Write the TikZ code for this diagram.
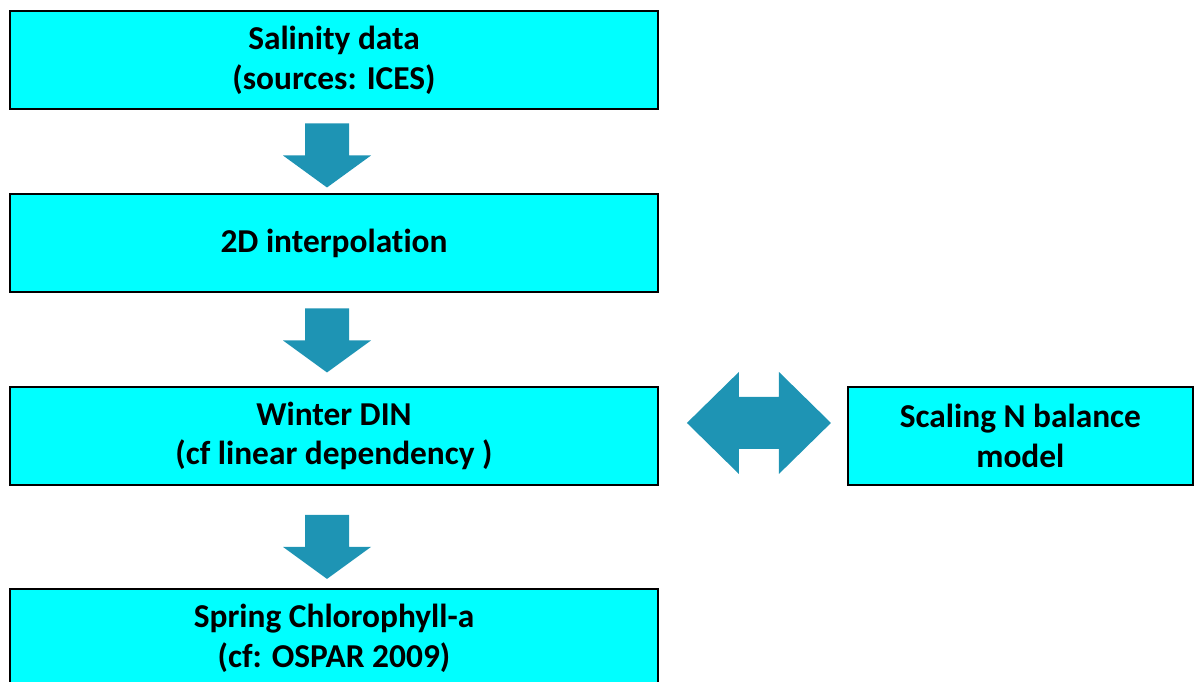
\documentclass[tikz,border=0pt]{standalone}
\usepackage{fontspec}
\setmainfont{Carlito}[Ligatures=CommonOff]
\usetikzlibrary{positioning,calc}
\definecolor{boxcyan}{RGB}{0,255,255}
\definecolor{arrowteal}{RGB}{30,148,180}
\tikzset{
  stage/.style={draw=black, line width=1.1pt, fill=boxcyan, align=center,
    minimum width=12.96cm, minimum height=1.96cm, inner sep=0pt, outer sep=0pt,
    font=\fontsize{19}{22.7}\selectfont\bfseries},
  blockarrow/.style={fill=arrowteal}
}
\begin{document}
\begin{tikzpicture}[x=0.02cm, y=-0.02cm]
  \useasboundingbox (0,0) rectangle (1195,681);
  \node[stage] (salinity) at (334,60) {Salinity data\\(sources: ICES)};
  \node[stage, below=1.7cm of salinity] (interp) {2D interpolation};
  \node[stage, below=1.9cm of interp] (winter) {Winter DIN\\(cf linear dependency )};
  \node[stage, below=2.08cm of winter] (spring) {Spring Chlorophyll-a\\(cf: OSPAR 2009)};
  \node[stage, minimum width=6.9cm, right=3.8cm of winter] (scaling) {Scaling N balance\\model};
  % block arrows between the stages
  \foreach \a/\b/\dy in {salinity/interp/4, interp/winter/1, winter/spring/10} {
    \path ($(\a.south)!0.5!(\b.north)+(-7,\dy)$) coordinate (m);
    \fill[blockarrow, shift={(m)}] (-22,-32) -- (22,-32) -- (22,0) -- (44,0)
      -- (0,32) -- (-44,0) -- (-22,0) -- cycle;
  }
  \path ($(winter.east)!0.5!(scaling.west)+(6,-13)$) coordinate (d);
  \fill[blockarrow, shift={(d)}] (-72,0) -- (-20,-51) -- (-20,-26) -- (20,-26)
    -- (20,-51) -- (72,0) -- (20,51) -- (20,26) -- (-20,26) -- (-20,51) -- cycle;
\end{tikzpicture}
\end{document}
